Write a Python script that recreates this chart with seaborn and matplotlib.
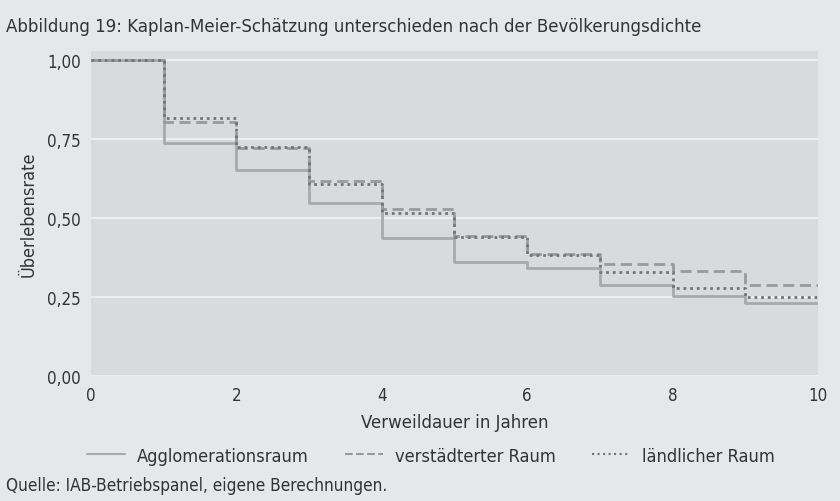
import pandas as pd
import matplotlib.pyplot as plt
import seaborn as sns

# Kaplan-Meier-Schaetzung, Werte je Jahr (Stufe gilt ab Jahr t bis t+1)
jahre = [0, 1, 2, 3, 4, 5, 6, 7, 8, 9, 10]
agglomeration = [1.00, 0.737, 0.652, 0.546, 0.437, 0.360, 0.341, 0.288, 0.252, 0.232, 0.232]
verstaedtert = [1.00, 0.805, 0.722, 0.617, 0.528, 0.442, 0.386, 0.354, 0.332, 0.289, 0.289]
laendlich = [1.00, 0.816, 0.725, 0.607, 0.515, 0.441, 0.384, 0.328, 0.278, 0.251, 0.251]
gruppen = ['Agglomerationsraum', 'verstädterter Raum', 'ländlicher Raum']

df = pd.concat([
    pd.DataFrame({'Jahr': jahre, 'Rate': agglomeration, 'Raum': gruppen[0]}),
    pd.DataFrame({'Jahr': jahre, 'Rate': verstaedtert, 'Raum': gruppen[1]}),
    pd.DataFrame({'Jahr': jahre, 'Rate': laendlich, 'Raum': gruppen[2]}),
])

outer_bg = '#e6e7e8'
plot_bg = '#d9dadc'
textcol = '#333333'

sns.set_style('white', {'axes.facecolor': plot_bg, 'figure.facecolor': outer_bg})
plt.rcParams['font.family'] = ['DejaVu Sans']
plt.rcParams['font.stretch'] = 'condensed'

fig = plt.figure(figsize=(8.4, 5.02), dpi=100)
ax = fig.add_axes([0.1083, 0.249, 0.8655, 0.647])

palette = {gruppen[0]: '#a9a9a9', gruppen[1]: '#9a9a9a', gruppen[2]: '#747474'}
dashes = {gruppen[0]: '', gruppen[1]: (4, 2), gruppen[2]: (1, 1.4)}
sns.lineplot(data=df, x='Jahr', y='Rate', hue='Raum', style='Raum',
             palette=palette, dashes=dashes, drawstyle='steps-post',
             linewidth=2, ax=ax, legend=False)

ax.set_xlim(0, 10)
ax.set_ylim(0, 1.028)
ax.set_xticks([0, 2, 4, 6, 8, 10])
ax.set_yticks([0, 0.25, 0.5, 0.75, 1.0])
ax.set_yticklabels(['0,00', '0,25', '0,50', '0,75', '1,00'])
ax.grid(axis='y', color='#eeeeee', linewidth=1.5)
ax.set_axisbelow(True)
for s in ax.spines.values():
    s.set_visible(False)
ax.tick_params(length=0, labelsize=12.2, colors=textcol, pad=7)
ax.set_xlabel('Verweildauer in Jahren', fontsize=13.3, color=textcol, labelpad=7)
ax.set_ylabel('Überlebensrate', fontsize=13, color=textcol, labelpad=7)

handles = [plt.Line2D([], [], color=palette[g], linewidth=1.5,
                      linestyle='-' if g == gruppen[0] else ('--' if g == gruppen[1] else ':'))
           for g in gruppen]
fig.legend(handles, gruppen, loc='center', bbox_to_anchor=(0.513, 0.09), ncol=3,
           frameon=False, fontsize=13.1, labelcolor=textcol, handlelength=2.1,
           handletextpad=0.65, columnspacing=2.0)

fig.text(0.007, 0.946, 'Abbildung 19: Kaplan-Meier-Schätzung unterschieden nach der Bevölkerungsdichte',
         fontsize=13.3, color=textcol, va='center')
fig.text(0.007, 0.032, 'Quelle: IAB-Betriebspanel, eigene Berechnungen.',
         fontsize=12.3, color=textcol, va='center')

fig.savefig('out.png', dpi=100, facecolor=outer_bg)
